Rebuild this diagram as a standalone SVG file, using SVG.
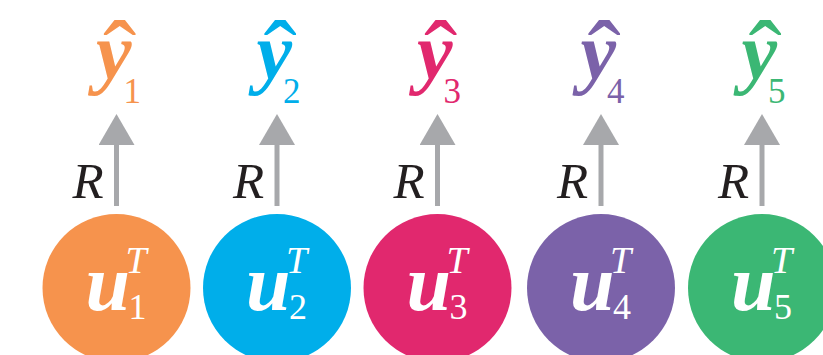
<svg xmlns="http://www.w3.org/2000/svg" width="823" height="355" viewBox="0 0 823 355">
<style>
.bg{fill:#ffffff}
.lab{font-family:"Liberation Serif","Times New Roman",serif}
.u{font-weight:bold;font-style:italic;font-size:80px}
.sup{font-style:italic;font-size:38px;font-weight:normal}
.sub{font-size:36px;font-style:normal;font-weight:normal}
.y{font-weight:bold;font-style:italic;font-size:80px}
.ysub{font-size:35px;font-style:normal;font-weight:normal}
.hat{font-size:100px;font-weight:normal;font-style:normal}
.w{fill:#ffffff}
.r{font-family:"Liberation Serif","Times New Roman",serif;font-style:italic;font-size:51px;fill:#231f20}
.conn{stroke:#a7a8ab;stroke-width:5;fill:none;marker-end:url(#ah)}
.c1{fill:#f6934d}.c2{fill:#00aeea}.c3{fill:#e1286e}.c4{fill:#7b62a9}.c5{fill:#3bb774}
</style>
<defs>
<marker id="ah" markerUnits="userSpaceOnUse" markerWidth="31" markerHeight="36" refX="0" refY="18" orient="auto" viewBox="0 0 31 36">
<path d="M0,0 L31,18 L0,36 z" fill="#a7a8ab"/>
</marker>
</defs>
<rect class="bg" width="823" height="355"/>
<g id="connectors">
<line class="conn" x1="116.5" y1="206" x2="116.5" y2="145"/>
<line class="conn" x1="277" y1="206" x2="277" y2="145"/>
<line class="conn" x1="437.5" y1="206" x2="437.5" y2="145"/>
<line class="conn" x1="601" y1="206" x2="601" y2="145"/>
<line class="conn" x1="762" y1="206" x2="762" y2="145"/>
<text class="r" x="72.5" y="198">R</text>
<text class="r" x="233" y="198">R</text>
<text class="r" x="393.5" y="198">R</text>
<text class="r" x="557" y="198">R</text>
<text class="r" x="718" y="198">R</text>
</g>
<g id="u1"><circle class="c1" cx="116.5" cy="288" r="74"/><text class="lab w"><tspan class="u" x="85.5" y="310">u</tspan><tspan class="sup" x="125.5" y="273">T</tspan><tspan class="sub" x="128.5" y="319">1</tspan></text></g>
<g id="u2"><circle class="c2" cx="277" cy="288" r="74"/><text class="lab w"><tspan class="u" x="246" y="310">u</tspan><tspan class="sup" x="286" y="273">T</tspan><tspan class="sub" x="289" y="319">2</tspan></text></g>
<g id="u3"><circle class="c3" cx="437.5" cy="288" r="74"/><text class="lab w"><tspan class="u" x="406.5" y="310">u</tspan><tspan class="sup" x="446.5" y="273">T</tspan><tspan class="sub" x="449.5" y="319">3</tspan></text></g>
<g id="u4"><circle class="c4" cx="601" cy="288" r="74"/><text class="lab w"><tspan class="u" x="570" y="310">u</tspan><tspan class="sup" x="610" y="273">T</tspan><tspan class="sub" x="613" y="319">4</tspan></text></g>
<g id="u5"><circle class="c5" cx="762" cy="288" r="74"/><text class="lab w"><tspan class="u" x="731" y="310">u</tspan><tspan class="sup" x="771" y="273">T</tspan><tspan class="sub" x="774" y="319">5</tspan></text></g>
<g id="y1"><text class="lab c1"><tspan class="hat" x="103" y="90">ˆ</tspan><tspan class="y" x="96" y="79">y</tspan><tspan class="ysub" x="123.5" y="103">1</tspan></text></g>
<g id="y2"><text class="lab c2"><tspan class="hat" x="263.5" y="90">ˆ</tspan><tspan class="y" x="256.5" y="79">y</tspan><tspan class="ysub" x="283" y="103">2</tspan></text></g>
<g id="y3"><text class="lab c3"><tspan class="hat" x="424" y="90">ˆ</tspan><tspan class="y" x="417" y="79">y</tspan><tspan class="ysub" x="443.5" y="103">3</tspan></text></g>
<g id="y4"><text class="lab c4"><tspan class="hat" x="587.5" y="90">ˆ</tspan><tspan class="y" x="580.5" y="79">y</tspan><tspan class="ysub" x="607" y="103">4</tspan></text></g>
<g id="y5"><text class="lab c5"><tspan class="hat" x="748.5" y="90">ˆ</tspan><tspan class="y" x="741.5" y="79">y</tspan><tspan class="ysub" x="768" y="103">5</tspan></text></g>
</svg>
